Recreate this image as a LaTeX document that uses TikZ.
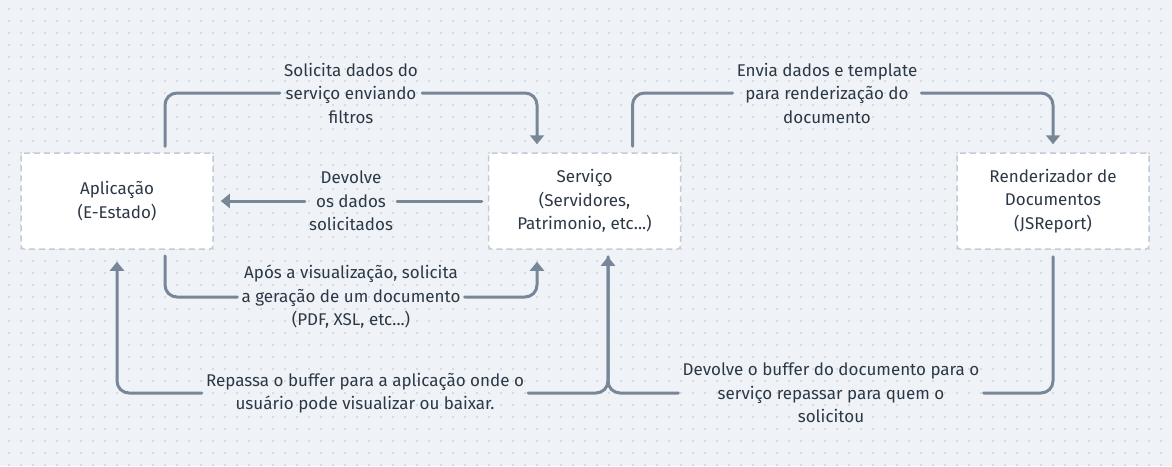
\documentclass[tikz,border=0pt]{standalone}
\usepackage{fontspec}
\setmainfont{Fira Sans}
\usepackage{tikz}
\usetikzlibrary{arrows.meta}
\definecolor{bgc}{HTML}{EFF3F7}
\definecolor{dotc}{HTML}{D5DBE2}
\definecolor{linec}{HTML}{788797}
\definecolor{boxc}{HTML}{C3CCD6}
\definecolor{textc}{HTML}{2D3846}
\tikzset{
  every picture/.style={line join=round, line cap=round, >=Stealth},
  box/.style={draw=boxc, fill=white, line width=1.5pt, line cap=butt, dash pattern=on 6pt off 4pt,
    rounded corners=3pt, minimum width=192pt, minimum height=96pt, align=center, text=textc,
    font=\fontsize{17}{23.5}\selectfont},
  lbl/.style={align=center, text=textc, font=\fontsize{17}{23.5}\selectfont, inner sep=4pt},
  flow/.style={draw=linec, line width=3pt, rounded corners=12pt},
  tip/.style={-{Triangle[width=14pt,length=9pt]}},
}

\begin{document}
\begin{tikzpicture}[x=1pt,y=-1pt]
\useasboundingbox (0,0) rectangle (1172,466);
\fill[bgc] (0,0) rectangle (1172,466);
\foreach \i in {9,21,...,1172}
  \foreach \j in {9,21,...,466}
    \fill[dotc] (\i-0.8,\j-0.8) rectangle ++(1.6,1.6);
% systems
\node[box] (app) at (117,201) {Aplicação\\(E-Estado)};
\node[box] (srv) at (584.5,201) {Serviço\\(Servidores,\\Patrimonio, etc...)};
\node[box] (rend) at (1053,201) {Renderizador de\\Documentos\\(JSReport)};
% labels
\node[lbl] (lSol) at (351,93) {Solicita dados do\\serviço enviando\\filtros};
\node[lbl] (lDev) at (351,201) {Devolve\\os dados\\solicitados};
\node[lbl] (lEnv) at (827,93) {Envia dados e template\\para renderização do\\documento};
\node[lbl] (lApos) at (351,297) {Após a visualização, solicita\\a geração de um documento\\(PDF, XSL, etc...)};
\node[lbl] (lRep) at (365,393) {Repassa o buffer para a aplicação onde o\\usuário pode visualizar ou baixar.};
\node[lbl] (lBuf) at (831,393) {Devolve o buffer do documento para o\\serviço repassar para quem o\\solicitou};
% connectors
\draw[flow,shorten <=6pt] ([xshift=48pt]app.north) |- (lSol.west);
\draw[flow,tip,shorten >=8pt] (lSol.east) -| ([xshift=-47.5pt]srv.north);
\draw[flow,shorten <=6pt] (srv.west) -- (lDev.east);
\draw[flow,tip,shorten >=7pt] (lDev.west) -- (app.east);
\draw[flow,shorten <=6pt] ([xshift=48pt]srv.north) |- (lEnv.west);
\draw[flow,tip,shorten >=8pt] (lEnv.east) -| (rend.north);
\draw[flow,shorten <=6pt] ([xshift=48pt]app.south) |- (lApos.west);
\draw[flow,tip,shorten >=12pt] (lApos.east) -| ([xshift=-47.5pt]srv.south);
\draw[flow,shorten <=7pt] (rend.south) |- (lBuf.east);
\draw[flow,tip,shorten >=7pt] (lBuf.west) -| ([xshift=23.5pt]srv.south);
\draw[flow,shorten <=7pt] ([xshift=23.5pt]srv.south) |- (lRep.east);
\draw[flow,tip,shorten >=12pt] (lRep.west) -| (app.south);
\end{tikzpicture}
\end{document}
